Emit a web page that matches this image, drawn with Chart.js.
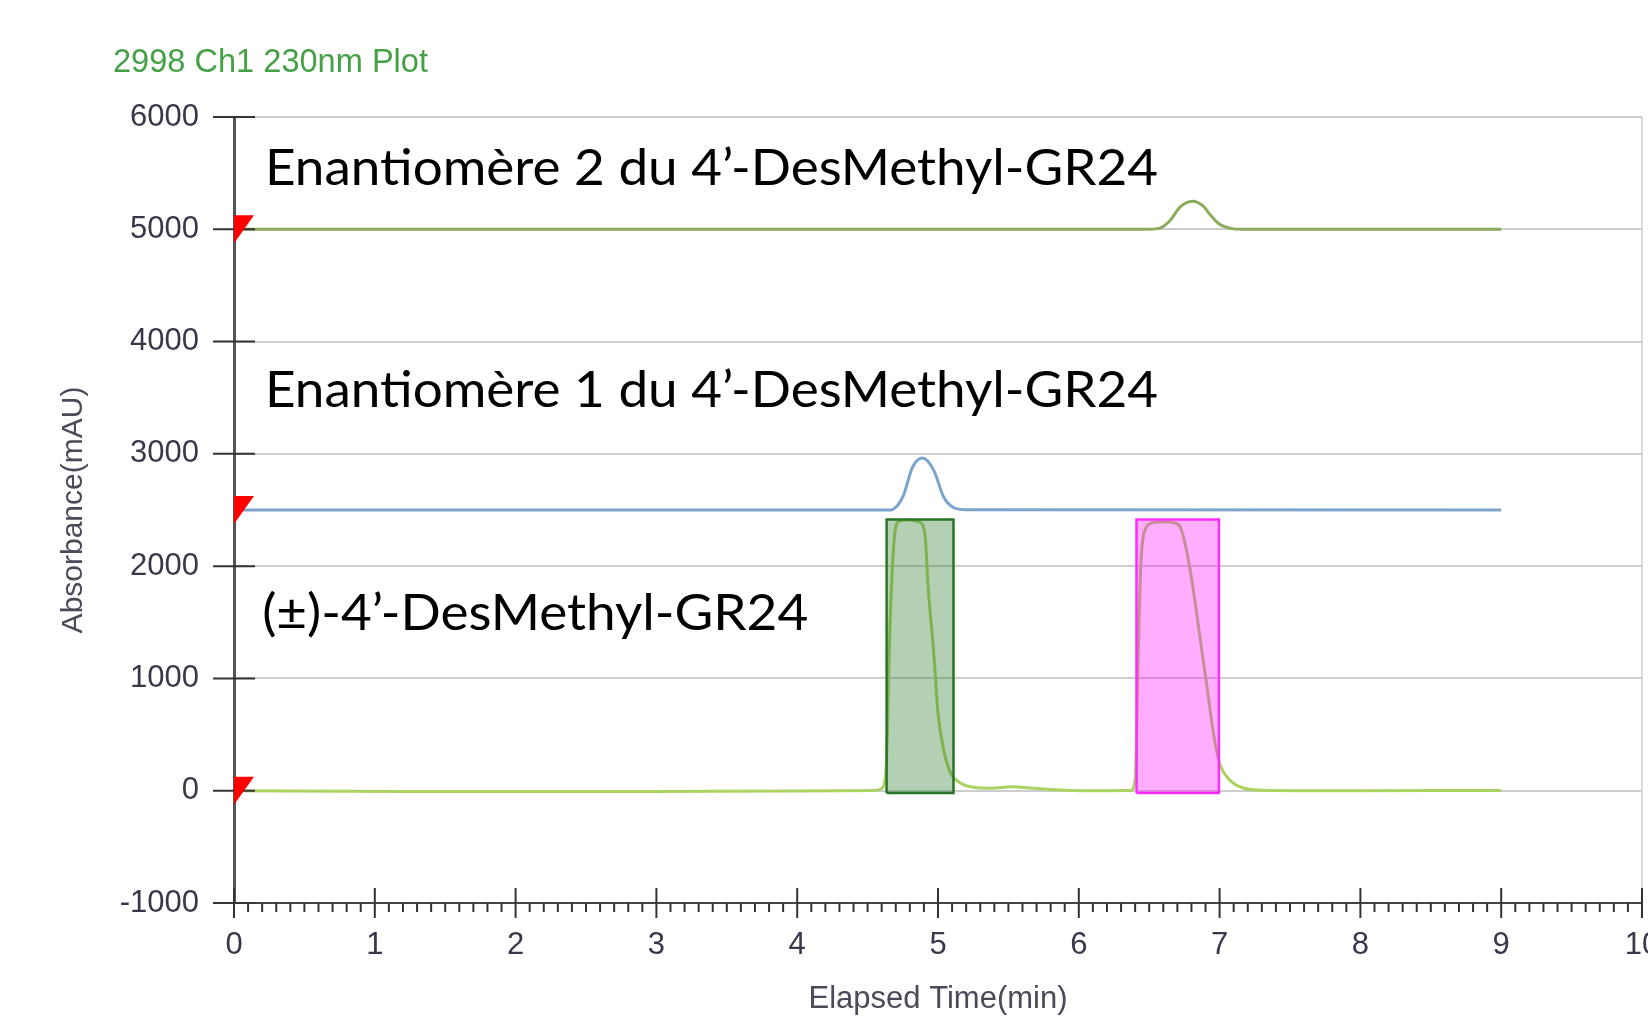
<!DOCTYPE html>
<html>
<head>
<meta charset="utf-8">
<script src="https://cdn.jsdelivr.net/npm/chart.js@4.4.1/dist/chart.umd.min.js"></script>
<style>
  html, body { margin: 0; padding: 0; background: #fff; }
  #wrap { width: 1648px; height: 1016px; }
</style>
</head>
<body>
<div id="wrap"><canvas id="chromatogram" width="1648" height="1016"></canvas></div>
<script>
// Racemic trace, baseline 0 mAU (time in min, absorbance in mAU)
const racemicTime = [0, 1.2, 2.0, 3.0, 4.0, 4.55, 4.61, 4.635, 4.66, 4.69, 4.72, 4.78, 4.85, 4.89, 4.91, 4.93, 4.97, 5.00, 5.04, 5.09, 5.16, 5.25, 5.38, 5.52, 5.68, 5.90, 6.20, 6.37, 6.40, 6.42, 6.44, 6.47, 6.52, 6.60, 6.68, 6.72, 6.76, 6.81, 6.86, 6.91, 6.96, 7.00, 7.07, 7.17, 7.30, 8.0, 9.0];
const racemicAbs = [0, -6, -8, -6, -3, 3, 30, 300, 1500, 2250, 2395, 2410, 2400, 2370, 2250, 1816, 1224, 691, 364, 157, 68, 30, 22, 35, 22, 5, 0, 2, 100, 1100, 2000, 2320, 2385, 2395, 2385, 2350, 2171, 1816, 1372, 927, 483, 246, 98, 24, 5, 0, 2];

// Enantiomer 1, baseline 2500 mAU
const enant1Time = [0, 4.66, 4.68, 4.75, 4.82, 4.89, 4.97, 5.04, 5.11, 5.20, 9.0];
const enant1Abs = [2500, 2500, 2505, 2616, 2883, 2962, 2853, 2616, 2522, 2502, 2500];

// Enantiomer 2, baseline 5000 mAU
const enant2Time = [0, 6.50, 6.58, 6.65, 6.72, 6.81, 6.88, 6.94, 7.00, 7.08, 7.16, 9.0];
const enant2Abs = [5000, 5000, 5012, 5080, 5200, 5250, 5210, 5120, 5045, 5008, 5000, 5000];

// Collected fractions
const fractionStart = [4.635, 6.41];
const fractionEnd = [5.11, 6.995];
const fractionTop = [2415, 2415];
const fractionBottom = [-20, -20];

const baselineLevels = [0, 2500, 5000];
const traceLabels = [
  'Enantiomère 2 du 4’-DesMethyl-GR24',
  'Enantiomère 1 du 4’-DesMethyl-GR24',
  '(±)-4’-DesMethyl-GR24'
];

const toPoints = (xs, ys) => xs.map((t, i) => ({ x: t, y: ys[i] }));

function fractionBox(i) {
  return [
    { x: fractionStart[i], y: fractionBottom[i] },
    { x: fractionStart[i], y: fractionTop[i] },
    { x: fractionEnd[i], y: fractionTop[i] },
    { x: fractionEnd[i], y: fractionBottom[i] },
    { x: fractionStart[i], y: fractionBottom[i] }
  ];
}

const tickFont = { family: 'Liberation Sans', size: 31 };
const tickColor = '#38384a';

// squeeze/stretch text to the width it has in the original
function drawFitted(ctx, text, x, y, width, font, color) {
  ctx.save();
  ctx.font = font;
  const w = ctx.measureText(text).width;
  ctx.translate(x, y);
  ctx.scale(width / w, 1);
  ctx.fillStyle = color;
  ctx.textBaseline = 'alphabetic';
  ctx.fillText(text, 0, 0);
  ctx.restore();
}

const overlayPlugin = {
  id: 'overlay',
  afterDraw(chart) {
    const { ctx, chartArea: area, scales: { x, y } } = chart;
    ctx.save();
    ctx.strokeStyle = '#333';
    ctx.lineWidth = 2;

    // y tick marks crossing the axis
    y.ticks.forEach(t => {
      const py = y.getPixelForValue(t.value);
      ctx.beginPath();
      ctx.moveTo(area.left - 21, py);
      ctx.lineTo(area.left + 21, py);
      ctx.stroke();
    });

    // x major and minor ticks
    for (let i = 0; i <= 100; i++) {
      const px = x.getPixelForValue(i / 10);
      ctx.beginPath();
      if (i % 10 === 0) {
        ctx.moveTo(px, area.bottom - 15);
        ctx.lineTo(px, area.bottom + 15);
      } else {
        ctx.moveTo(px, area.bottom);
        ctx.lineTo(px, area.bottom + 9);
      }
      ctx.stroke();
    }

    // red baseline markers
    ctx.fillStyle = '#ff0000';
    baselineLevels.forEach(v => {
      const px = x.getPixelForValue(0);
      const py = y.getPixelForValue(v);
      ctx.beginPath();
      ctx.moveTo(px, py - 14);
      ctx.lineTo(px + 20, py - 14);
      ctx.lineTo(px, py + 14);
      ctx.closePath();
      ctx.fill();
    });
    ctx.restore();

    // plot title
    drawFitted(ctx, '2998 Ch1 230nm Plot', 113, 72, 315, '33px "Liberation Sans"', '#46a046');

    // trace labels, anchored in data units
    const anchors = [
      { x: 0.22, y: 5396, w: 893 },
      { x: 0.22, y: 3413, w: 893 },
      { x: 0.20, y: 1431, w: 546 }
    ];
    anchors.forEach((a, i) => {
      drawFitted(ctx, traceLabels[i], x.getPixelForValue(a.x), y.getPixelForValue(a.y), a.w, '51px Lato', '#000');
    });
  }
};

const traceStyle = {
  pointRadius: 0,
  borderWidth: 3,
  fill: false,
  cubicInterpolationMode: 'monotone',
  order: 1
};

const ctx = document.getElementById('chromatogram').getContext('2d');
const chart = new Chart(ctx, {
  type: 'line',
  data: {
    datasets: [
      Object.assign({ data: toPoints(enant2Time, enant2Abs), borderColor: '#8cab5c' }, traceStyle),
      Object.assign({ data: toPoints(enant1Time, enant1Abs), borderColor: '#7ca3cc' }, traceStyle),
      Object.assign({ data: toPoints(racemicTime, racemicAbs), borderColor: '#acd262' }, traceStyle),
      {
        data: fractionBox(0),
        borderColor: '#2a742a',
        backgroundColor: 'rgba(40,120,40,0.35)',
        borderWidth: 2.5,
        pointRadius: 0,
        tension: 0,
        fill: 'shape',
        order: 0
      },
      {
        data: fractionBox(1),
        borderColor: '#ff2cff',
        backgroundColor: 'rgba(255,0,255,0.32)',
        borderWidth: 2.5,
        pointRadius: 0,
        tension: 0,
        fill: 'shape',
        order: 0
      }
    ]
  },
  options: {
    responsive: false,
    animation: false,
    events: [],
    layout: {
      autoPadding: false,
      padding: { top: 117, right: 6, left: 0, bottom: 0 }
    },
    plugins: {
      legend: { display: false },
      tooltip: { enabled: false },
      title: { display: false }
    },
    scales: {
      x: {
        type: 'linear',
        min: 0,
        max: 10,
        ticks: {
          stepSize: 1,
          padding: 24,
          autoSkip: false,
          maxRotation: 0,
          color: tickColor,
          font: tickFont,
          callback: v => String(v)
        },
        grid: {
          drawTicks: false,
          lineWidth: 2,
          color: c => (c.tick && c.tick.value === 10 ? '#dcdcdc' : 'rgba(0,0,0,0)')
        },
        border: { color: '#444', width: 2 },
        title: {
          display: true,
          text: 'Elapsed Time(min)',
          color: '#4a4a58',
          font: { family: 'Liberation Sans', size: 31, lineHeight: 1.05 },
          padding: { top: 0, bottom: 0 }
        },
        afterFit: s => {
          s.height = 113;
          s.paddingLeft = 0;
          s.paddingRight = 0;
        }
      },
      y: {
        min: -1000,
        max: 6000,
        ticks: {
          stepSize: 1000,
          padding: 35,
          color: tickColor,
          font: tickFont,
          callback: v => String(v)
        },
        grid: { drawTicks: false, color: '#cdcdcd', lineWidth: 2 },
        border: { color: '#555', width: 3 },
        title: {
          display: true,
          text: 'Absorbance(mAU)',
          color: '#4a4a58',
          font: { family: 'Liberation Sans', size: 30 },
          padding: { top: 56, bottom: 0 }
        },
        afterFit: s => {
          s.width = 234;
          s.paddingTop = 0;
          s.paddingBottom = 0;
        }
      }
    }
  },
  plugins: [overlayPlugin]
});
</script>
</body>
</html>
